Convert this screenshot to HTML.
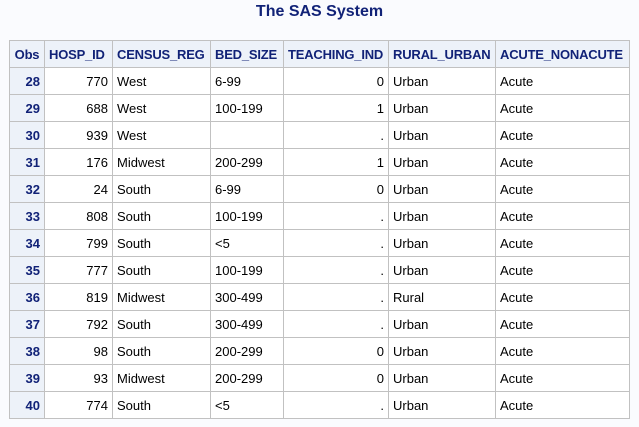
<!DOCTYPE html>
<html><head><meta charset="utf-8"><style>
html,body{margin:0;padding:0;background:#fafbfe;width:639px;height:427px;overflow:hidden;font-family:"Liberation Sans",Arial,sans-serif;}
#title{position:absolute;left:0;top:3px;width:639px;text-align:center;font-weight:bold;font-size:16px;color:#112277;}
table{position:absolute;left:9px;top:40px;width:620px;border-collapse:collapse;table-layout:fixed;font-size:13px;}
td,th{border:1px solid #c1c1c1;height:27px;padding:0 4px;white-space:nowrap;overflow:hidden;box-sizing:border-box;}
th{background:#edf2f9;color:#112277;font-weight:bold;text-align:left;letter-spacing:-0.2px;}
th.obs,td.obs{background:#edf2f9;color:#112277;font-weight:bold;text-align:right;}
td{background:#fff;color:#000;}
.r{text-align:right;}
</style></head><body>
<div id="title">The SAS System</div>
<table>
<colgroup><col style="width:35px"><col style="width:68px"><col style="width:98px"><col style="width:73px"><col style="width:105px"><col style="width:107px"><col style="width:134px"></colgroup>
<thead><tr>
<th class="obs" style="text-align:center">Obs</th>
<th>HOSP_ID</th>
<th>CENSUS_REG</th>
<th>BED_SIZE</th>
<th>TEACHING_IND</th>
<th>RURAL_URBAN</th>
<th>ACUTE_NONACUTE</th>
</tr></thead>
<tbody>
<tr><td class="obs">28</td><td class="r">770</td><td>West</td><td>6-99</td><td class="r">0</td><td>Urban</td><td>Acute</td></tr>
<tr><td class="obs">29</td><td class="r">688</td><td>West</td><td>100-199</td><td class="r">1</td><td>Urban</td><td>Acute</td></tr>
<tr><td class="obs">30</td><td class="r">939</td><td>West</td><td></td><td class="r">.</td><td>Urban</td><td>Acute</td></tr>
<tr><td class="obs">31</td><td class="r">176</td><td>Midwest</td><td>200-299</td><td class="r">1</td><td>Urban</td><td>Acute</td></tr>
<tr><td class="obs">32</td><td class="r">24</td><td>South</td><td>6-99</td><td class="r">0</td><td>Urban</td><td>Acute</td></tr>
<tr><td class="obs">33</td><td class="r">808</td><td>South</td><td>100-199</td><td class="r">.</td><td>Urban</td><td>Acute</td></tr>
<tr><td class="obs">34</td><td class="r">799</td><td>South</td><td>&lt;5</td><td class="r">.</td><td>Urban</td><td>Acute</td></tr>
<tr><td class="obs">35</td><td class="r">777</td><td>South</td><td>100-199</td><td class="r">.</td><td>Urban</td><td>Acute</td></tr>
<tr><td class="obs">36</td><td class="r">819</td><td>Midwest</td><td>300-499</td><td class="r">.</td><td>Rural</td><td>Acute</td></tr>
<tr><td class="obs">37</td><td class="r">792</td><td>South</td><td>300-499</td><td class="r">.</td><td>Urban</td><td>Acute</td></tr>
<tr><td class="obs">38</td><td class="r">98</td><td>South</td><td>200-299</td><td class="r">0</td><td>Urban</td><td>Acute</td></tr>
<tr><td class="obs">39</td><td class="r">93</td><td>Midwest</td><td>200-299</td><td class="r">0</td><td>Urban</td><td>Acute</td></tr>
<tr><td class="obs">40</td><td class="r">774</td><td>South</td><td>&lt;5</td><td class="r">.</td><td>Urban</td><td>Acute</td></tr>
</tbody></table>
</body></html>
